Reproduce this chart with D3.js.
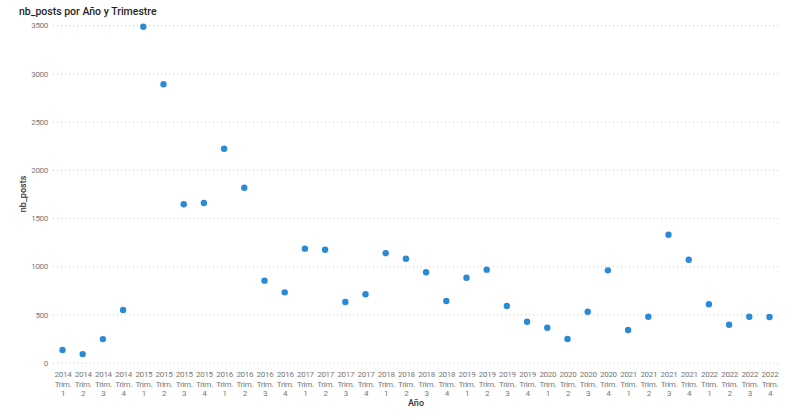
<!DOCTYPE html>
<html>
<head>
<meta charset="utf-8">
<script src="https://cdn.jsdelivr.net/npm/d3@7"></script>
<style>
  body { margin: 0; background: #fff; }
  svg text { font-family: Roboto, "Noto Sans", sans-serif; }
  .title { font-size: 10.5px; font-weight: 500; fill: #252423; }
  .tick text { fill: #777; font-size: 8px; letter-spacing: -0.3px; }
  .axis-title { font-size: 9px; font-weight: 500; fill: #333; }
</style>
</head>
<body>
<svg id="chart"></svg>
<script>
// quarters 2014 Q1 .. 2022 Q4
var years = ["2014","2015","2016","2017","2018","2019","2020","2021","2022"];
var quarters = ["1","2","3","4"];
var nbPosts = [
  131, 89, 245, 546,
  3485, 2888, 1643, 1657,
  2220, 1815, 851, 730,
  1183, 1172, 630, 710,
  1135, 1079, 938, 640,
  882, 965, 588, 425,
  363, 246, 529, 958,
  339, 477, 1328, 1068,
  606, 394, 477, 474
];
var yTicks = [0, 500, 1000, 1500, 2000, 2500, 3000, 3500];

var width = 795, height = 420;
var padding = { top: 25.3, right: 15, bottom: 57.3, left: 53 };

var data = [];
years.forEach(function(y) {
  quarters.forEach(function(q) {
    data.push({ key: y + "-" + q, year: y, q: q, value: nbPosts[data.length] });
  });
});

var svg = d3.select("#chart")
  .attr("width", width)
  .attr("height", height);

svg.append("text")
  .attr("class", "title")
  .attr("x", 19)
  .attr("y", 15)
  .text("nb_posts por Año y Trimestre");

var xScale = d3.scalePoint()
  .domain(data.map(d => d.key))
  .range([62.5, 769.5]);

var yScale = d3.scaleLinear()
  .domain([0, 3500])
  .range([height - padding.bottom, padding.top]);

// gridlines + y labels
var yAxis = svg.append("g")
  .attr("transform", "translate(" + padding.left + ", 0)")
  .call(d3.axisLeft(yScale).tickValues(yTicks).tickFormat(d3.format("d")).tickSize(0).tickPadding(5));
yAxis.select(".domain").remove();
yAxis.selectAll(".tick line")
  .attr("x2", 780 - padding.left)
  .attr("stroke", "#c8c8c8")
  .attr("stroke-width", 1)
  .attr("stroke-dasharray", "1,3");

// x labels on three lines
var xAxis = svg.append("g")
  .attr("transform", "translate(0, " + (height - padding.bottom) + ")")
  .call(d3.axisBottom(xScale).tickSize(0).tickFormat(""));
xAxis.select(".domain").remove();
xAxis.selectAll(".tick text").remove();
xAxis.selectAll(".tick")
  .append("text")
  .attr("text-anchor", "middle")
  .selectAll("tspan")
  .data(function(k) {
    var d = data.find(e => e.key === k);
    return [d.year, "Trim.", d.q];
  })
  .enter()
  .append("tspan")
    .attr("x", 0)
    .attr("y", (d, i) => 14.5 + i * 9.5)
    .text(d => d);

svg.append("text")
  .attr("class", "axis-title")
  .attr("text-anchor", "middle")
  .attr("x", 416)
  .attr("y", 406)
  .text("Año");

svg.append("text")
  .attr("class", "axis-title")
  .attr("text-anchor", "middle")
  .attr("transform", "translate(26, " + ((padding.top + height - padding.bottom) / 2) + ") rotate(-90)")
  .text("nb_posts");

svg.append("g")
  .selectAll("circle")
  .data(data)
  .enter()
  .append("circle")
    .attr("r", 3.2)
    .attr("fill", "#2b8ad6")
    .attr("cx", d => xScale(d.key))
    .attr("cy", d => yScale(d.value));
</script>
</body>
</html>
